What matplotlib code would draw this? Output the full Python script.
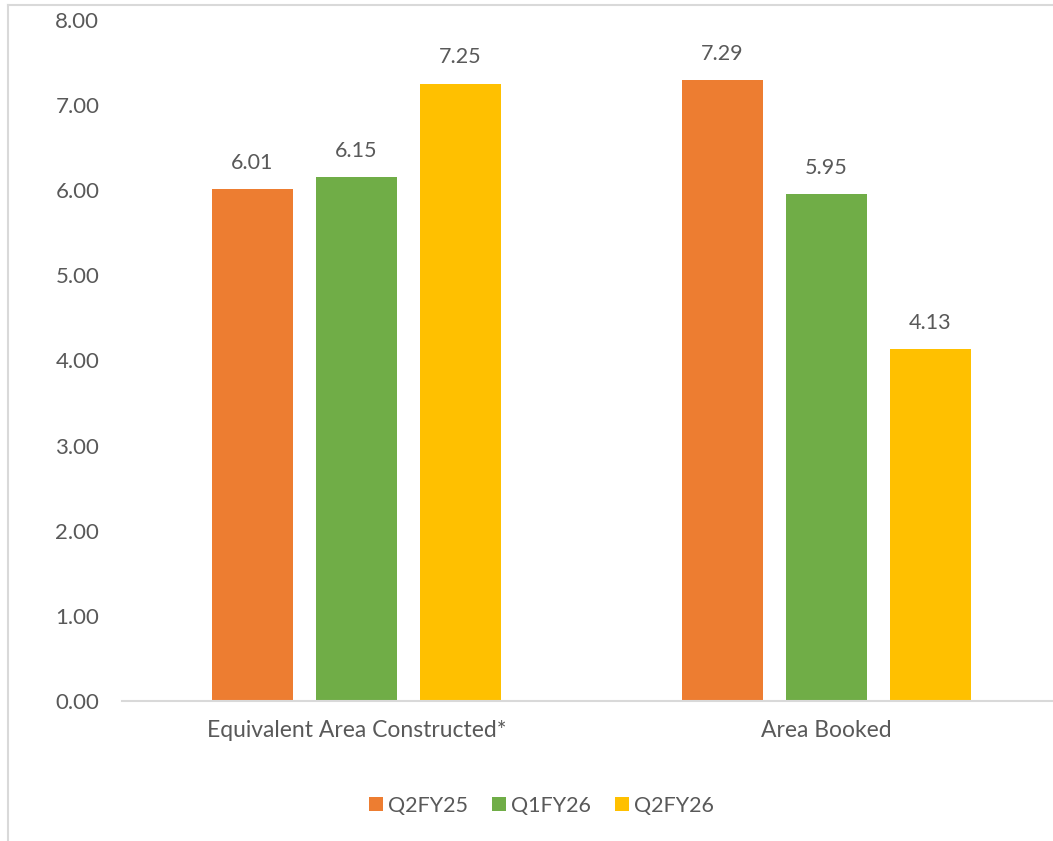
import numpy as np
import matplotlib.pyplot as plt
from matplotlib.lines import Line2D

# Data
categories = ["Equivalent Area Constructed*", "Area Booked"]
series_names = ["Q2FY25", "Q1FY26", "Q2FY26"]
q2fy25 = [6.01, 7.29]
q1fy26 = [6.15, 5.95]
q2fy26 = [7.25, 4.13]
y_ticks = [0, 1, 2, 3, 4, 5, 6, 7, 8]

colors = ["#ED7D31", "#70AD47", "#FFC000"]
text_color = "#595959"
line_color = "#D9D9D9"

plt.rcParams["font.family"] = ["Lato", "DejaVu Sans"]

fig = plt.figure(figsize=(10.53, 8.41), dpi=100)
ax = fig.add_axes([0.1154, 0.1665, 0.8927, 0.8098])

x = np.arange(len(categories))
width = 0.172
step = 0.2213

for i, (name, vals) in enumerate(zip(series_names, [q2fy25, q1fy26, q2fy26])):
    pos = x + (i - 1) * step
    bars = ax.bar(pos, vals, width, color=colors[i], label=name)
    for b, v in zip(bars, vals):
        ax.annotate(f"{v:.2f}", (b.get_x() + b.get_width() / 2, v),
                    xytext=(0, 12), textcoords="offset points",
                    ha="center", va="bottom", fontsize=15.5, color=text_color)

ax.set_xlim(-0.5, 1.5)
ax.set_ylim(0, 8)
ax.set_yticks(y_ticks)
ax.set_yticklabels([f"{t:.2f}" for t in y_ticks])
ax.set_xticks(x)
ax.set_xticklabels(categories)
ax.tick_params(axis="y", length=0, pad=16, labelsize=16, labelcolor=text_color)
ax.tick_params(axis="x", length=0, pad=14, labelsize=16.5, labelcolor=text_color)

for s in ["left", "right", "top"]:
    ax.spines[s].set_visible(False)
ax.spines["bottom"].set_color(line_color)
ax.spines["bottom"].set_linewidth(1.5)

leg = fig.legend(loc="center", bbox_to_anchor=(0.514, 0.042), ncol=3,
                 frameon=False, fontsize=15.5, handlelength=0.65, handleheight=0.65,
                 handletextpad=0.25, columnspacing=1.1)
for t in leg.get_texts():
    t.set_color(text_color)

# chart border (left and top edges visible)
fig.add_artist(Line2D([0.0076, 0.0076], [0, 0.994], color=line_color, lw=1.5,
                      transform=fig.transFigure))
fig.add_artist(Line2D([0.0076, 1], [0.994, 0.994], color=line_color, lw=1.5,
                      transform=fig.transFigure))

fig.savefig("out.png", dpi=100)
